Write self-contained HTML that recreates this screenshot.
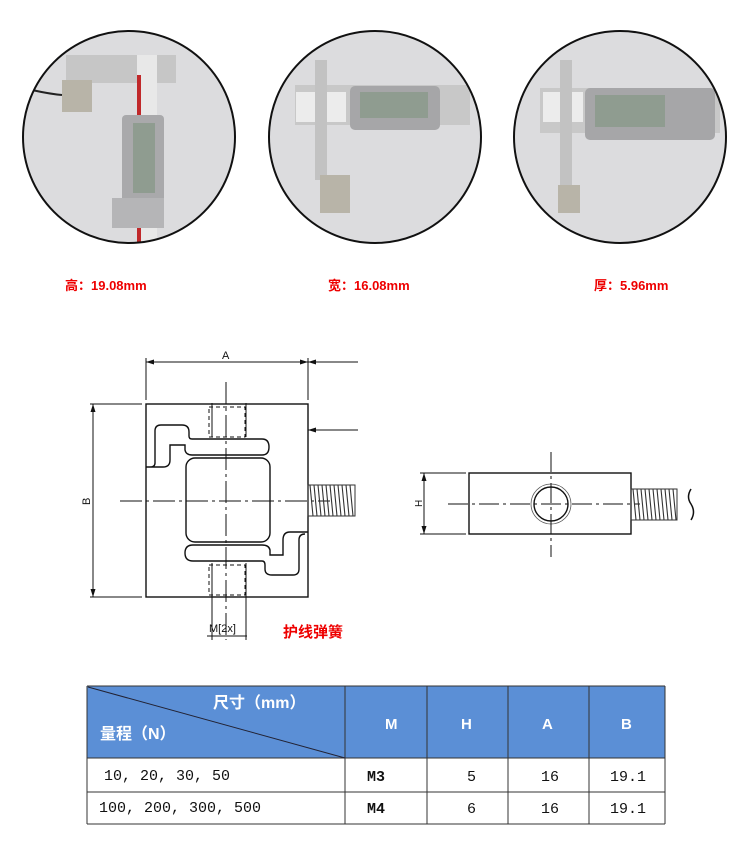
<!DOCTYPE html>
<html><head><meta charset="utf-8"><style>
body{margin:0;background:#fff;width:750px;height:850px;overflow:hidden;font-family:"Liberation Sans","Noto Sans CJK SC",sans-serif}
</style></head><body>
<svg width="750" height="850" viewBox="0 0 750 850" xmlns="http://www.w3.org/2000/svg" style="position:absolute;left:0;top:0">
<defs>
<clipPath id="c1"><circle cx="129" cy="137" r="106"/></clipPath>
<clipPath id="c2"><circle cx="375" cy="137" r="106"/></clipPath>
<clipPath id="c3"><circle cx="620" cy="137" r="106"/></clipPath>
</defs>
<!-- photos -->
<g clip-path="url(#c1)">
<rect x="20" y="30" width="220" height="220" fill="#dcdcde"/>
<rect x="66" y="55" width="110" height="28" fill="#c6c6c6"/>
<rect x="137" y="55" width="20" height="190" fill="#e8e8e8"/>
<rect x="137" y="75" width="4" height="170" fill="#c0282a"/>
<rect x="62" y="80" width="30" height="32" fill="#b8b4a8"/>
<rect x="122" y="115" width="42" height="100" rx="4" fill="#a9a9ab"/>
<rect x="133" y="123" width="22" height="70" fill="#8f9c90"/>
<rect x="112" y="198" width="52" height="30" fill="#b5b5b7"/>
<path d="M32 90 Q50 94 62 95" stroke="#222" stroke-width="2" fill="none"/>
</g>
<circle cx="129" cy="137" r="106" fill="none" stroke="#111" stroke-width="2"/>
<g clip-path="url(#c2)">
<rect x="265" y="30" width="220" height="220" fill="#dcdcde"/>
<rect x="295" y="85" width="175" height="40" fill="#c8c8c8"/>
<rect x="350" y="86" width="90" height="44" rx="5" fill="#a6a6a8"/>
<rect x="360" y="92" width="68" height="26" fill="#8f9c90"/>
<rect x="296" y="92" width="50" height="30" fill="#ececec"/>
<rect x="315" y="60" width="12" height="120" fill="#c2c2c2"/>
<rect x="320" y="175" width="30" height="38" fill="#b8b4a8"/>
</g>
<circle cx="375" cy="137" r="106" fill="none" stroke="#111" stroke-width="2"/>
<g clip-path="url(#c3)">
<rect x="510" y="30" width="220" height="220" fill="#dcdcde"/>
<rect x="540" y="88" width="180" height="45" fill="#c8c8c8"/>
<rect x="585" y="88" width="130" height="52" rx="5" fill="#a6a6a8"/>
<rect x="595" y="95" width="70" height="32" fill="#8f9c90"/>
<rect x="543" y="92" width="40" height="30" fill="#ececec"/>
<rect x="560" y="60" width="12" height="150" fill="#c2c2c2"/>
<rect x="558" y="185" width="22" height="28" fill="#b8b4a8"/>
</g>
<circle cx="620" cy="137" r="106" fill="none" stroke="#111" stroke-width="2"/>
<g fill="#e00" font-size="13" font-weight="bold">
<text x="65" y="290">高：19.08mm</text>
<text x="328" y="290">宽：16.08mm</text>
<text x="594" y="290">厚：5.96mm</text>
</g>
<!-- front drawing -->
<g stroke="#111" fill="none" stroke-width="1.4">
<rect x="146" y="404" width="162" height="193"/>
<line x1="146" y1="362" x2="308" y2="362" stroke-width="1"/>
<line x1="146" y1="358" x2="146" y2="400" stroke-width="1"/>
<line x1="308" y1="358" x2="308" y2="400" stroke-width="1"/>
<line x1="308" y1="362" x2="358" y2="362" stroke-width="1"/>
<line x1="308" y1="430" x2="358" y2="430" stroke-width="1"/>
<line x1="93" y1="404" x2="93" y2="597" stroke-width="1"/>
<line x1="90" y1="404" x2="142" y2="404" stroke-width="1"/>
<line x1="90" y1="597" x2="142" y2="597" stroke-width="1"/>
<path d="M146 467 L163 467 Q170 467 170 460 L170 445 L185 445 L185 450 Q186 455 192 455 L262 455 Q269 455 269 447 Q269 439 262 439 L192 439 Q189 439 189 436 L189 432 Q189 425 182 425 L161 425 Q155 425 155 431 L155 463 Q155 467 150 467"/>
<path d="M308 532 L290 532 Q283 532 283 540 L283 555 L270 555 L270 550 Q269 545 262 545 L193 545 Q185 545 185 553 Q185 561 193 561 L262 561 Q265 561 265 565 L265 569 Q265 575 272 575 L293 575 Q299 575 299 569 L299 540 Q299 534 305 534"/>
<rect x="186" y="458" width="84" height="84" rx="9"/>
<line x1="212" y1="403" x2="212" y2="437" stroke-width="1"/>
<line x1="246" y1="403" x2="246" y2="437" stroke-width="1"/>
<line x1="212" y1="563" x2="212" y2="640" stroke-width="1"/>
<line x1="246" y1="563" x2="246" y2="640" stroke-width="1"/>
<rect x="209" y="407" width="36" height="30" stroke-dasharray="4 3" stroke-width="1"/>
<rect x="209" y="565" width="36" height="30" stroke-dasharray="4 3" stroke-width="1"/>
<line x1="226" y1="382" x2="226" y2="640" stroke-width="1" stroke-dasharray="22 4 3 4"/>
<line x1="120" y1="501" x2="330" y2="501" stroke-width="1" stroke-dasharray="22 4 3 4"/>
<line x1="207" y1="636" x2="247" y2="636" stroke-width="1"/>
<rect x="308" y="485" width="47" height="31" stroke="#333" stroke-width="1"/>
<path stroke-width="1.1" stroke="#333" d="M310 485 l3 31 M314 485 l3 31 M318 485 l3 31 M322 485 l3 31 M326 485 l3 31 M330 485 l3 31 M334 485 l3 31 M338 485 l3 31 M342 485 l3 31 M346 485 l3 31 M350 485 l3 31"/>
</g>
<g fill="#111">
<path d="M146 362 l8 -2.5 v5z M308 362 l-8 -2.5 v5z M308 362 l8 -2.5 v5z M308 430 l8 -2.5 v5z M93 404 l-2.5 8 h5z M93 597 l-2.5 -8 h5z"/>
</g>
<text x="222" y="359" font-size="11" fill="#111">A</text>
<text x="90" y="505" font-size="11" fill="#111" transform="rotate(-90 90 505)">B</text>
<text x="209" y="632" font-size="11" fill="#111">M[2x]</text>
<text x="283" y="637" font-size="15" font-weight="bold" fill="#e00">护线弹簧</text>
<!-- side view -->
<g stroke="#111" fill="none" stroke-width="1.4">
<rect x="469" y="473" width="162" height="61"/>
<circle cx="551" cy="504" r="17"/>
<circle cx="551" cy="504" r="20" stroke-width="0.8" stroke="#555"/>
<line x1="551" y1="452" x2="551" y2="557" stroke-width="1" stroke-dasharray="20 4 3 4"/>
<line x1="448" y1="504" x2="640" y2="504" stroke-width="1" stroke-dasharray="20 4 3 4"/>
<line x1="420" y1="473" x2="466" y2="473" stroke-width="1"/>
<line x1="420" y1="534" x2="466" y2="534" stroke-width="1"/>
<line x1="424" y1="473" x2="424" y2="534" stroke-width="1"/>
<rect x="631" y="489" width="46" height="31" stroke="#333" stroke-width="1"/>
<path stroke-width="1.1" stroke="#333" d="M633 489 l3 31 M637 489 l3 31 M641 489 l3 31 M645 489 l3 31 M649 489 l3 31 M653 489 l3 31 M657 489 l3 31 M661 489 l3 31 M665 489 l3 31 M669 489 l3 31 M673 489 l3 31"/>
<path d="M691 489 q-5 8 0 15 q5 8 0 16" stroke-width="1.5"/>
</g>
<path d="M424 473 l-2.5 8 h5z M424 534 l-2.5 -8 h5z" fill="#111"/>
<text x="422" y="507" font-size="10" fill="#111" transform="rotate(-90 422 507)">H</text>
<!-- table -->
<g>
<rect x="87" y="686" width="578" height="72" fill="#5b8fd6"/>
<g stroke="#333" stroke-width="1">
<line x1="87" y1="686" x2="665" y2="686"/>
<line x1="87" y1="758" x2="665" y2="758"/>
<line x1="87" y1="792" x2="665" y2="792"/>
<line x1="87" y1="824" x2="665" y2="824"/>
<line x1="87" y1="686" x2="87" y2="824"/>
<line x1="665" y1="686" x2="665" y2="824"/>
<line x1="345" y1="686" x2="345" y2="824"/>
<line x1="427" y1="686" x2="427" y2="824"/>
<line x1="508" y1="686" x2="508" y2="824"/>
<line x1="589" y1="686" x2="589" y2="824"/>
<line x1="88" y1="687" x2="345" y2="758" stroke="#223"/>
</g>
<g fill="#fff" font-weight="bold" font-size="16">
<text x="213" y="708">尺寸（mm）</text>
<text x="100" y="739">量程（N）</text>
<text x="385" y="729" font-size="15">M</text>
<text x="461" y="729" font-size="15">H</text>
<text x="542" y="729" font-size="15">A</text>
<text x="621" y="729" font-size="15">B</text>
</g>
<g fill="#111" font-size="15" font-family="Liberation Mono, monospace">
<text x="104" y="780">10, 20, 30, 50</text>
<text x="99" y="812">100, 200, 300, 500</text>
<text x="367" y="781" font-weight="bold">M3</text>
<text x="367" y="813" font-weight="bold">M4</text>
<text x="467" y="781">5</text>
<text x="467" y="813">6</text>
<text x="541" y="781">16</text>
<text x="541" y="813">16</text>
<text x="610" y="781">19.1</text>
<text x="610" y="813">19.1</text>
</g>
</g>
</svg>
</body></html>
